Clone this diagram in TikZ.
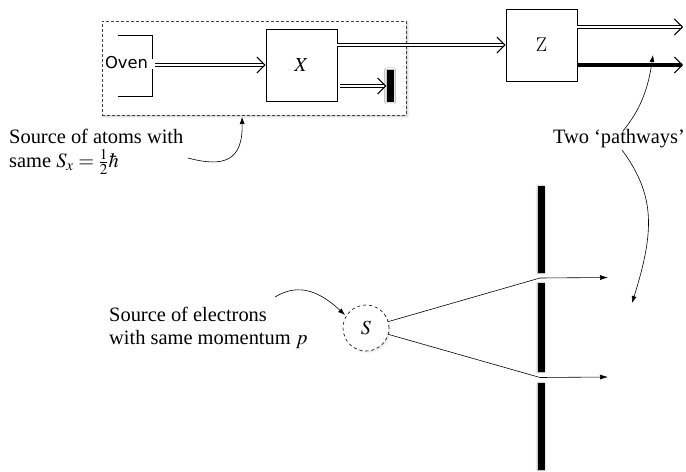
\documentclass[tikz,border=0pt]{standalone}
\usepackage{mathptmx}
\usepackage[no-math]{fontspec}
\setmainfont{Liberation Serif}
\newfontfamily\serifft[Ligatures=TeX]{Liberation Serif}
\newfontfamily\ovenfont{DejaVu Sans}
\newfontfamily\lmroman{Latin Modern Roman}
\usetikzlibrary{arrows.meta,shadows.blur}
\begin{document}
\begin{tikzpicture}[x=1bp,y=-1bp,
  lbl/.style={font=\serifft\fontsize{20.5}{23.5}\selectfont, align=left, inner sep=0pt},
  beam/.style={double, double distance=1.6bp, line width=0.8bp,
    -{Straight Barb[length=8bp,width=16bp,line width=1bp]}},
  boxx/.style={draw, line width=0.8bp, minimum width=71bp, minimum height=72bp, inner sep=0pt},
  bar/.style={fill=black, draw=none, minimum width=7bp, inner sep=0pt,
    blur shadow={shadow xshift=0bp, shadow yshift=0bp, shadow blur radius=2bp, shadow opacity=40}},
  note/.style={line width=0.6bp, -{Latex[length=7bp,width=5bp]}},
  ray/.style={line width=0.6bp},
]
\useasboundingbox (0,0) rectangle (686,472);
% dashed source box
\node[draw=black!75, dash pattern=on 3bp off 2bp, line width=0.7bp, fill=white,
  minimum width=304bp, minimum height=94bp, inner sep=0pt,
  blur shadow={shadow xshift=1.5bp, shadow yshift=-1.5bp, shadow blur radius=2bp, shadow opacity=25}]
  (src) at (254,68) {};
% oven
\node[font=\ovenfont\fontsize{16.4}{18}\selectfont, inner sep=0pt] (oven) at (126.5,62.5) {Oven};
\draw[line width=0.8bp] (118,35) -- (152,35) -- (152,59);
\draw[line width=0.8bp] (152,69) -- (152,96) -- (118,96);
\coordinate (ovenout) at (155,65);
% boxes
\node[boxx] (X) at (301.5,65) {\fontsize{20}{23}\selectfont$X$};
\node[boxx] (Z) at (541.5,45) {\lmroman\fontsize{20}{23}\selectfont Z};
% beams
\draw[beam] (ovenout) -- (X.west);
\draw[beam] (X.east |- Z.west) -- (Z.west);
\node[bar, minimum height=32bp] (stop) at (390,86) {};
\draw[beam] (340,86) -- (stop.west);
\coordinate (o1) at (683,27);
\coordinate (o2) at (683,65);
\draw[beam] (Z.east |- o1) -- (o1);
\draw[line width=3.2bp, -{Straight Barb[length=8bp,width=16bp,line width=1bp]}] (Z.east |- o2) -- (o2);
% labels
\node[lbl, anchor=west] (atoms) at (9,152) {Source of atoms with\\[1bp]same $S_x = \frac{1}{2}\hbar$};
\node[lbl] (pw) at (619,139) {Two ‘pathways’};
\draw[note] (188,158) .. controls (225,168) and (243,160) .. (242,117);
\draw[note] (623,131) .. controls (640,110) and (648,90) .. (653,55);
\draw[note] (622,150) .. controls (655,195) and (655,230) .. (632,303);
% slits
\node[bar, minimum height=87bp] (w1) at (541,229.5) {};
\node[bar, minimum height=89bp] (w2) at (541,327.5) {};
\node[bar, minimum height=87bp] (w3) at (541,426.5) {};
\coordinate (s1) at (540,278);
\coordinate (s2) at (540,377.5);
\coordinate (a1) at (608,277.5);
\coordinate (a2) at (608,377);
\node[draw, dashed, circle, line width=0.6bp, minimum size=46bp, inner sep=0pt, fill=white,
  blur shadow={shadow xshift=1bp, shadow yshift=-1bp, shadow blur radius=1.5bp, shadow opacity=15}]
  (S) at (366,328) {\fontsize{20}{23}\selectfont$S$};
\draw[ray] (S) -- (s1);
\draw[ray] (S) -- (s2);
\draw[ray, -{Latex[length=8bp,width=5bp]}] (s1) -- (a1);
\draw[ray, -{Latex[length=8bp,width=5bp]}] (s2) -- (a2);
\node[lbl, anchor=west] (elec) at (109,328) {Source of electrons\\with same momentum $p$};
\draw[note] (275,297) .. controls (295,285) and (315,287) .. (345,315);
\end{tikzpicture}
\end{document}
